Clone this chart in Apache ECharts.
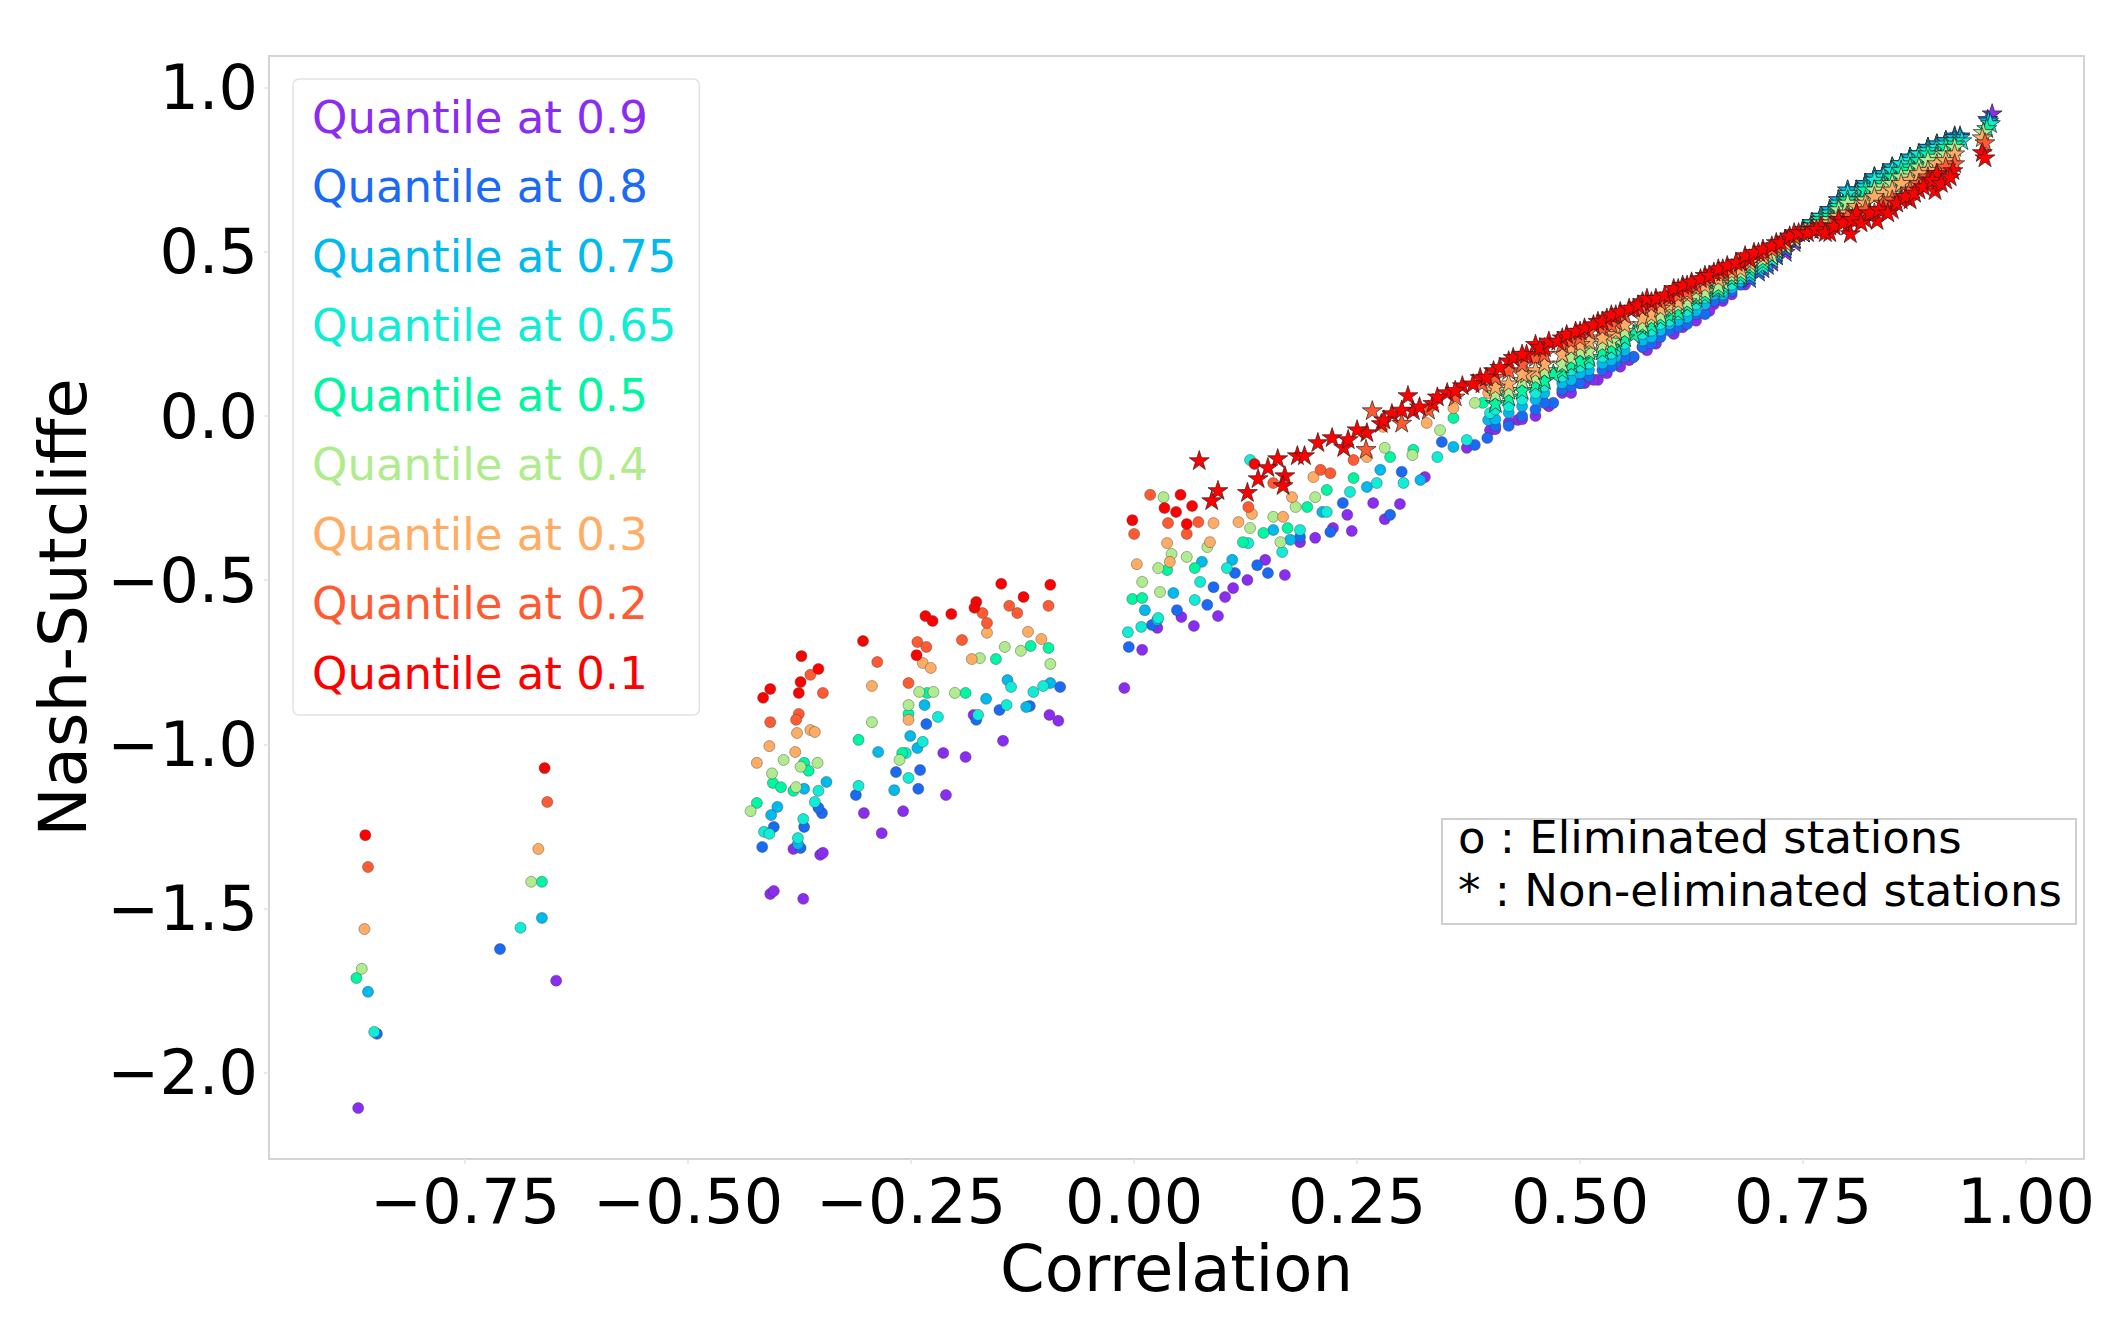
<!DOCTYPE html>
<html>
<head>
<meta charset="utf-8">
<script src="https://cdn.jsdelivr.net/npm/echarts@6/dist/echarts.min.js"></script>
<style>
html,body{margin:0;padding:0;background:#fff;}
#chart{width:2127px;height:1318px;}
</style>
</head>
<body>
<div id="chart"></div>
<script>
// ---- data ----
const quantileNames = ['Quantile at 0.9','Quantile at 0.8','Quantile at 0.75','Quantile at 0.65','Quantile at 0.5','Quantile at 0.4','Quantile at 0.3','Quantile at 0.2','Quantile at 0.1'];
const quantileColors = ['#8a2cf2','#1b6af5','#00baee','#10ecd6','#00f7a2','#b0ec8e','#ffac64','#ff5a32','#ff0000'];
const xTicks = [-0.75,-0.5,-0.25,0,0.25,0.5,0.75,1.0];
const yTicks = [-2.0,-1.5,-1.0,-0.5,0.0,0.5,1.0];
const notes = ['o : Eliminated stations','* : Non-eliminated stations'];

// [correlation, Nash-Sutcliffe]
const q90Circles = [[-0.870,-2.107],[-0.648,-1.719],[-0.408,-1.455],[-0.404,-1.446],[-0.371,-1.470],[-0.382,-1.318],[-0.352,-1.336],[-0.349,-1.330],[-0.303,-1.209],[-0.283,-1.270],[-0.259,-1.203],[-0.214,-1.026],[-0.189,-1.038],[-0.211,-1.154],[-0.147,-0.989],[-0.180,-0.910],[-0.095,-0.910],[-0.085,-0.928],[-0.011,-0.828],[0.009,-0.712],[0.026,-0.645],[0.053,-0.612],[0.067,-0.639],[0.094,-0.609],[0.102,-0.551],[0.111,-0.524],[0.127,-0.499],[0.169,-0.484],[0.147,-0.438],[0.186,-0.384],[0.203,-0.371],[0.223,-0.341],[0.244,-0.350],[0.239,-0.301],[0.268,-0.265],[0.281,-0.314],[0.298,-0.268],[0.326,-0.186],[0.373,-0.097],[0.399,-0.043],[0.43,-0.012],[0.45,0.00],[0.48,0.07],[0.50,0.10],[0.53,0.13],[0.56,0.18],[0.59,0.25],[0.62,0.30],[0.65,0.34],[0.68,0.40],[0.694,0.435],[0.635,0.353],[0.52,0.11],[0.57,0.21],
  [0.405,-0.04],[0.42,-0.02],[0.435,-0.01],[0.465,0.03],[0.49,0.07],[0.505,0.10],[0.515,0.11],[0.545,0.15],[0.555,0.17],[0.575,0.20],[0.585,0.22],[0.605,0.25],[0.615,0.27],[0.63,0.29],[0.645,0.32],[0.66,0.35],[0.67,0.37],[0.685,0.40]];
const q90Stars = [[0.72,0.49],[0.75,0.57],[0.78,0.63],[0.81,0.69],[0.84,0.74],[0.87,0.79],[0.90,0.83],[0.92,0.85],[0.962,0.922],
  [0.705,0.45],[0.715,0.47],[0.73,0.50],[0.74,0.53],[0.76,0.59],[0.77,0.61],[0.79,0.66],[0.80,0.68],[0.82,0.71],[0.83,0.73],[0.85,0.76],[0.86,0.77],[0.88,0.80],[0.89,0.82],[0.91,0.84]];

const q80Circles = [[-0.849,-1.881],[-0.711,-1.623],[-0.417,-1.312],[-0.404,-1.251],[-0.370,-1.251],[-0.350,-1.209],[-0.354,-1.193],[-0.374,-1.315],[-0.312,-1.154],[-0.267,-1.084],[-0.240,-1.078],[-0.242,-1.135],[-0.233,-0.938],[-0.151,-0.895],[-0.177,-0.925],[-0.117,-0.883],[-0.083,-0.825],[-0.006,-0.703],[0.020,-0.636],[0.048,-0.591],[0.082,-0.575],[0.089,-0.521],[0.113,-0.478],[0.138,-0.454],[0.150,-0.478],[0.186,-0.368],[0.220,-0.353],[0.234,-0.265],[0.287,-0.301],[0.300,-0.170],[0.345,-0.079],[0.382,-0.088],[0.396,-0.067],[0.42,-0.03],[0.45,0.02],[0.48,0.08],[0.51,0.12],[0.54,0.16],[0.57,0.21],[0.60,0.26],[0.63,0.31],[0.66,0.36],[0.47,0.04],[0.56,0.18],
  [0.405,-0.03],[0.435,0.00],[0.46,0.04],[0.49,0.09],[0.50,0.10],[0.525,0.14],[0.535,0.15],[0.55,0.18],[0.58,0.22],[0.59,0.24],[0.61,0.27],[0.62,0.28],[0.64,0.31],[0.65,0.35],[0.67,0.38],[0.68,0.40]];
const q80Stars = [[0.69,0.42],[0.72,0.49],[0.75,0.57],[0.78,0.63],[0.81,0.69],[0.84,0.74],[0.87,0.79],[0.90,0.83],[0.926,0.855],[0.957,0.905],
  [0.70,0.44],[0.71,0.46],[0.73,0.51],[0.74,0.54],[0.76,0.59],[0.77,0.61],[0.79,0.66],[0.80,0.69],[0.82,0.71],[0.83,0.73],[0.85,0.76],[0.86,0.77],[0.88,0.80],[0.89,0.82],[0.91,0.84],[0.92,0.855]];

const q75Circles = [[-0.859,-1.753],[-0.664,-1.528],[-0.400,-1.190],[-0.407,-1.215],[-0.370,-1.135],[-0.345,-1.114],[-0.377,-1.303],[-0.287,-1.023],[-0.251,-0.974],[-0.235,-0.880],[-0.243,-1.011],[-0.269,-1.139],[-0.166,-0.861],[-0.142,-0.804],[-0.121,-0.886],[-0.094,-0.813],[0.012,-0.591],[0.026,-0.621],[0.044,-0.539],[0.076,-0.444],[0.110,-0.438],[0.156,-0.347],[0.175,-0.377],[0.211,-0.292],[0.261,-0.216],[0.276,-0.164],[0.321,-0.195],[0.358,-0.094],[0.397,-0.012],[0.42,0.01],[0.45,0.05],[0.48,0.10],[0.51,0.14],[0.54,0.18],[0.57,0.23],[0.60,0.28],[0.63,0.32],[0.66,0.37],
  [0.405,-0.01],[0.435,0.03],[0.46,0.07],[0.49,0.11],[0.50,0.13],[0.525,0.16],[0.535,0.17],[0.55,0.20],[0.58,0.24],[0.59,0.26],[0.61,0.29],[0.62,0.30],[0.64,0.34],[0.65,0.37],[0.67,0.39],[0.68,0.41]];
const q75Stars = [[0.69,0.43],[0.72,0.50],[0.75,0.57],[0.78,0.63],[0.81,0.68],[0.84,0.74],[0.87,0.79],[0.90,0.83],[0.926,0.85],[0.958,0.90],
  [0.70,0.45],[0.71,0.47],[0.73,0.52],[0.74,0.54],[0.76,0.59],[0.77,0.61],[0.79,0.66],[0.80,0.69],[0.82,0.71],[0.83,0.73],[0.85,0.76],[0.86,0.77],[0.88,0.80],[0.89,0.82],[0.91,0.84],[0.92,0.85]];

const q65Circles = [[-0.852,-1.875],[-0.688,-1.558],[-0.415,-1.266],[-0.409,-1.272],[-0.371,-1.227],[-0.358,-1.175],[-0.354,-1.141],[-0.377,-1.285],[-0.309,-1.126],[-0.253,-1.102],[-0.237,-0.992],[-0.256,-1.026],[-0.220,-0.916],[-0.138,-0.825],[-0.113,-0.840],[-0.102,-0.822],[-0.175,-0.910],[-0.143,-0.880],[-0.007,-0.658],[0.008,-0.642],[0.027,-0.615],[0.068,-0.560],[0.074,-0.505],[0.104,-0.463],[0.130,-0.134],[0.128,-0.387],[0.166,-0.414],[0.186,-0.347],[0.216,-0.292],[0.242,-0.231],[0.272,-0.204],[0.302,-0.204],[0.340,-0.125],[0.373,-0.073],[0.399,0.009],[0.42,0.03],[0.45,0.07],[0.48,0.12],[0.51,0.16],[0.54,0.20],[0.57,0.25],[0.60,0.29],[0.63,0.34],[0.66,0.38],
  [0.405,0.02],[0.435,0.05],[0.46,0.09],[0.49,0.14],[0.50,0.15],[0.525,0.18],[0.535,0.19],[0.55,0.22],[0.58,0.26],[0.59,0.28],[0.61,0.31],[0.62,0.32],[0.64,0.36],[0.65,0.38],[0.67,0.40],[0.68,0.42]];
const q65Stars = [[0.69,0.44],[0.72,0.50],[0.75,0.56],[0.78,0.62],[0.81,0.68],[0.84,0.73],[0.87,0.78],[0.90,0.82],[0.928,0.840],[0.960,0.892],[0.70,0.46],[0.76,0.59],[0.82,0.70],[0.88,0.80],
  [0.705,0.46],[0.715,0.48],[0.73,0.52],[0.74,0.54],[0.77,0.61],[0.79,0.65],[0.80,0.68],[0.83,0.72],[0.85,0.75],[0.86,0.77],[0.89,0.81],[0.91,0.83],[0.92,0.84]];

const q50Circles = [[-0.872,-1.711],[-0.664,-1.418],[-0.405,-1.117],[-0.396,-1.130],[-0.423,-1.178],[-0.370,-1.056],[-0.365,-1.080],[-0.382,-1.141],[-0.309,-0.986],[-0.253,-0.907],[-0.232,-0.843],[-0.189,-0.843],[-0.260,-1.026],[-0.155,-0.740],[-0.116,-0.700],[-0.096,-0.706],[-0.002,-0.557],[0.009,-0.554],[0.037,-0.469],[0.068,-0.463],[0.122,-0.384],[0.145,-0.356],[0.172,-0.341],[0.194,-0.277],[0.216,-0.225],[0.246,-0.189],[0.287,-0.125],[0.313,-0.103],[0.358,-0.006],[0.391,0.040]];
const q50Stars = [[0.42,0.06],[0.45,0.10],[0.48,0.14],[0.51,0.18],[0.54,0.22],[0.57,0.27],[0.60,0.31],[0.63,0.36],[0.66,0.40],[0.69,0.45],[0.72,0.51],[0.75,0.56],[0.78,0.61],[0.81,0.66],[0.84,0.71],[0.87,0.76],[0.90,0.80],[0.92,0.83],[0.956,0.877],[0.47,0.13],[0.56,0.25],[0.65,0.39],[0.74,0.54],[0.83,0.69],
  [0.405,0.04],[0.435,0.08],[0.46,0.11],[0.49,0.16],[0.50,0.17],[0.525,0.20],[0.535,0.21],[0.55,0.24],[0.58,0.28],[0.59,0.30],[0.61,0.32],[0.62,0.34],[0.64,0.37],[0.655,0.39],[0.67,0.42],[0.68,0.43],[0.705,0.47],[0.715,0.49],[0.73,0.52],[0.76,0.58],[0.77,0.60],[0.79,0.64],[0.80,0.66],[0.82,0.69],[0.85,0.73],[0.86,0.75],[0.88,0.78],[0.89,0.80],[0.91,0.82]];

const q40Circles = [[-0.866,-1.683],[-0.676,-1.418],[-0.393,-1.047],[-0.374,-1.068],[-0.355,-1.056],[-0.406,-1.088],[-0.379,-1.130],[-0.430,-1.203],[-0.294,-0.932],[-0.253,-0.880],[-0.241,-0.840],[-0.225,-0.840],[-0.201,-0.843],[-0.263,-1.047],[-0.173,-0.737],[-0.145,-0.703],[-0.127,-0.715],[-0.094,-0.755],[0.009,-0.505],[0.027,-0.463],[0.029,-0.536],[0.042,-0.420],[0.059,-0.429],[0.082,-0.399],[0.033,-0.247],[0.130,-0.341],[0.164,-0.384],[0.156,-0.307],[0.181,-0.277],[0.203,-0.247],[0.257,-0.049],[0.281,-0.097],[0.312,-0.119],[0.343,-0.043],[0.382,0.040]];
const q40Stars = [[0.42,0.08],[0.45,0.12],[0.48,0.16],[0.51,0.20],[0.54,0.24],[0.57,0.28],[0.60,0.33],[0.63,0.37],[0.66,0.41],[0.69,0.46],[0.72,0.51],[0.75,0.56],[0.78,0.60],[0.81,0.65],[0.84,0.70],[0.87,0.74],[0.90,0.79],[0.92,0.82],[0.952,0.865],[0.46,0.14],[0.55,0.26],[0.64,0.38],[0.73,0.52],[0.82,0.66],
  [0.405,0.07],[0.435,0.11],[0.49,0.18],[0.50,0.20],[0.525,0.22],[0.535,0.23],[0.58,0.30],[0.59,0.31],[0.61,0.34],[0.62,0.35],[0.655,0.40],[0.67,0.43],[0.68,0.44],[0.705,0.48],[0.715,0.49],[0.74,0.54],[0.76,0.58],[0.77,0.59],[0.79,0.63],[0.80,0.65],[0.83,0.69],[0.85,0.71],[0.86,0.73],[0.88,0.76],[0.89,0.78],[0.91,0.80]];

const q30Circles = [[-0.863,-1.562],[-0.668,-1.318],[-0.378,-0.965],[-0.363,-0.956],[-0.358,-0.962],[-0.409,-1.005],[-0.380,-1.023],[-0.423,-1.056],[-0.294,-0.822],[-0.237,-0.752],[-0.228,-0.767],[-0.253,-0.925],[-0.182,-0.740],[-0.165,-0.660],[-0.119,-0.657],[-0.104,-0.679],[0.003,-0.451],[0.037,-0.387],[0.040,-0.444],[0.085,-0.384],[0.089,-0.326],[0.117,-0.323],[0.132,-0.298],[0.167,-0.307],[0.177,-0.247],[0.201,-0.186],[0.261,-0.125],[0.279,-0.033],[0.328,-0.021],[0.358,0.024],[0.397,0.070]];
const q30Stars = [[0.42,0.10],[0.45,0.14],[0.48,0.19],[0.51,0.23],[0.54,0.26],[0.57,0.30],[0.60,0.34],[0.63,0.39],[0.66,0.43],[0.69,0.47],[0.72,0.52],[0.75,0.56],[0.78,0.59],[0.81,0.64],[0.84,0.68],[0.87,0.72],[0.90,0.77],[0.92,0.80],[0.951,0.849],[0.44,0.13],[0.53,0.25],[0.62,0.37],[0.71,0.50],[0.80,0.62],[0.89,0.75],
  [0.405,0.09],[0.435,0.13],[0.46,0.16],[0.49,0.21],[0.50,0.22],[0.525,0.24],[0.55,0.28],[0.58,0.31],[0.59,0.33],[0.61,0.35],[0.64,0.40],[0.655,0.42],[0.67,0.44],[0.68,0.45],[0.705,0.49],[0.73,0.53],[0.74,0.55],[0.76,0.57],[0.77,0.58],[0.79,0.61],[0.82,0.65],[0.83,0.67],[0.85,0.69],[0.86,0.71],[0.88,0.74],[0.91,0.78]];

const q20Circles = [[-0.859,-1.373],[-0.658,-1.175],[-0.363,-0.788],[-0.349,-0.843],[-0.408,-0.932],[-0.376,-0.907],[-0.379,-0.925],[-0.288,-0.749],[-0.243,-0.688],[-0.233,-0.703],[-0.253,-0.813],[-0.170,-0.600],[-0.165,-0.630],[-0.140,-0.578],[-0.131,-0.600],[-0.096,-0.578],[-0.193,-0.682],[0.018,-0.240],[0.000,-0.359],[0.038,-0.326],[0.072,-0.323],[0.059,-0.359],[0.128,-0.277],[0.156,-0.204],[0.209,-0.164],[0.220,-0.174],[0.246,-0.134]];
const q20Stars = [[0.267,0.018],[0.26,-0.10],[0.30,-0.02],[0.33,0.02],[0.36,0.06],[0.39,0.10],[0.42,0.14],[0.45,0.18],[0.48,0.22],[0.51,0.26],[0.54,0.29],[0.57,0.33],[0.60,0.36],[0.63,0.40],[0.66,0.44],[0.69,0.48],[0.72,0.52],[0.75,0.56],[0.78,0.58],[0.81,0.62],[0.84,0.65],[0.87,0.69],[0.90,0.74],[0.92,0.77],[0.954,0.834],[0.83,0.62],[0.86,0.67],[0.77,0.57],
  [0.405,0.12],[0.435,0.16],[0.46,0.19],[0.49,0.23],[0.50,0.24],[0.525,0.27],[0.535,0.28],[0.55,0.31],[0.58,0.34],[0.59,0.35],[0.61,0.37],[0.62,0.38],[0.64,0.42],[0.655,0.44],[0.67,0.45],[0.68,0.47],[0.705,0.50],[0.715,0.51],[0.73,0.54],[0.74,0.55],[0.76,0.57],[0.79,0.60],[0.80,0.61],[0.82,0.63],[0.85,0.66],[0.88,0.71],[0.89,0.73],[0.91,0.76]];

const q10Circles = [[-0.862,-1.276],[-0.661,-1.072],[-0.373,-0.731],[-0.408,-0.831],[-0.416,-0.858],[-0.374,-0.810],[-0.376,-0.843],[-0.354,-0.770],[-0.304,-0.685],[-0.234,-0.609],[-0.226,-0.624],[-0.205,-0.603],[-0.177,-0.566],[-0.179,-0.584],[-0.149,-0.511],[-0.094,-0.514],[-0.124,-0.551],[-0.244,-0.728],[-0.002,-0.317],[0.052,-0.240],[0.034,-0.280],[0.065,-0.274],[0.059,-0.329],[0.135,-0.146],[0.047,-0.292]];
const q10Stars = [[0.073,-0.134],[0.094,-0.225],[0.087,-0.256],[0.127,-0.231],[0.139,-0.189],[0.161,-0.128],[0.150,-0.155],[0.169,-0.180],[0.183,-0.119],[0.191,-0.119],[0.206,-0.079],[0.222,-0.064],[0.235,-0.094],[0.261,-0.049],[0.277,-0.021],[0.289,0.009],[0.307,0.064],[0.313,0.018],[0.335,0.040],[0.351,0.073],[0.368,0.094],[0.388,0.119],[0.403,0.140],[0.167,-0.210],[0.42,0.17],[0.44,0.19],[0.46,0.21],[0.48,0.24],[0.50,0.26],[0.52,0.29],[0.54,0.31],[0.56,0.33],[0.58,0.35],[0.60,0.37],[0.62,0.40],[0.64,0.43],[0.66,0.45],[0.68,0.47],[0.70,0.50],[0.72,0.53],[0.74,0.56],[0.76,0.57],[0.78,0.56],[0.80,0.58],[0.803,0.557],[0.82,0.60],[0.833,0.597],[0.85,0.63],[0.87,0.66],[0.88,0.69],[0.898,0.688],[0.91,0.72],[0.918,0.749],[0.951,0.804],[0.954,0.788],[0.45,0.22],[0.53,0.30],[0.57,0.35],[0.61,0.39],[0.65,0.44],[0.69,0.48],[0.73,0.54],[0.77,0.58],[0.79,0.60],[0.81,0.62],[0.84,0.63],[0.86,0.66],[0.89,0.72],[0.90,0.74],
  [0.425,0.18],[0.435,0.19],[0.455,0.21],[0.465,0.23],[0.475,0.23],[0.485,0.25],[0.495,0.26],[0.505,0.27],[0.515,0.28],[0.525,0.29],[0.535,0.31],[0.545,0.32],[0.555,0.33],[0.565,0.34],[0.575,0.36],[0.585,0.36],[0.595,0.37],[0.605,0.39],[0.615,0.40],[0.625,0.41],[0.635,0.42],[0.645,0.43],[0.655,0.45],[0.665,0.46],[0.675,0.47],[0.685,0.49],[0.695,0.50],[0.705,0.51],[0.715,0.52],[0.725,0.53],[0.735,0.55],[0.745,0.56],[0.755,0.56],[0.765,0.57],[0.775,0.56],[0.785,0.58],[0.795,0.59],[0.805,0.60],[0.815,0.59],[0.825,0.62],[0.835,0.63],[0.845,0.62],[0.855,0.65],[0.865,0.67],[0.875,0.68],[0.885,0.70],[0.895,0.72],[0.905,0.71],[0.915,0.73],
  [0.32,0.03],[0.34,0.06],[0.36,0.08],[0.38,0.10],[0.395,0.12],[0.41,0.15],[0.30,0.02],[0.28,-0.01],[0.25,-0.04],[0.24,-0.07]];

const circleSets = [q90Circles,q80Circles,q75Circles,q65Circles,q50Circles,q40Circles,q30Circles,q20Circles,q10Circles];
const starSets = [q90Stars,q80Stars,q75Stars,q65Stars,q50Stars,q40Stars,q30Stars,q20Stars,q10Stars];

// ---- chart ----
const STAR = 'path://M50,0 L61.2,34.5 L97.6,34.5 L68.2,55.9 L79.4,90.5 L50,69.1 L20.6,90.5 L31.8,55.9 L2.4,34.5 L38.8,34.5 Z';
const FONT = 'DejaVu Sans';
const fmt = (v, d) => v.toFixed(d).replace('-', '\u2212');

const series = [];
quantileNames.forEach((name, i) => {
  series.push({
    name: name, type: 'scatter', data: circleSets[i], symbol: 'circle', symbolSize: 11,
    itemStyle: { color: quantileColors[i], borderColor: 'rgba(60,60,60,0.7)', borderWidth: 0.6, opacity: 1 },
    z: 2 + i
  });
});
quantileNames.forEach((name, i) => {
  series.push({
    name: name, type: 'scatter', data: starSets[i], symbol: STAR, symbolSize: 20, symbolKeepAspect: true,
    itemStyle: { color: quantileColors[i], borderColor: 'rgba(30,30,30,0.85)', borderWidth: 0.8, opacity: 1 },
    z: 12 + i
  });
});

const chart = echarts.init(document.getElementById('chart'), null, { renderer: 'svg' });
chart.setOption({
  animation: false,
  backgroundColor: '#ffffff',
  textStyle: { fontFamily: FONT },
  grid: { left: 269, right: 43, top: 56, bottom: 159, show: true, borderColor: '#d4d4d4', borderWidth: 2, backgroundColor: 'transparent' },
  legend: {
    orient: 'vertical', left: 293, top: 79,
    padding: [13, 23, 17, 14],
    backgroundColor: '#ffffff', borderColor: '#e2e2e2', borderWidth: 1.5, borderRadius: 6,
    icon: 'none', itemWidth: 0, itemHeight: 50, itemGap: 19.5,
    selectedMode: false,
    textStyle: { fontSize: 45, fontFamily: FONT, lineHeight: 50 },
    data: quantileNames.map((n, i) => ({ name: n, textStyle: { color: quantileColors[i] } }))
  },
  xAxis: {
    type: 'value', min: -0.97, max: 1.065,
    name: 'Correlation', nameLocation: 'middle', nameGap: 72,
    nameTextStyle: { fontSize: 64, color: '#000', fontFamily: FONT },
    axisLine: { show: false, onZero: false },
    splitLine: { show: false },
    axisTick: { show: true, customValues: xTicks, length: 5, lineStyle: { color: '#e4e4e4', width: 1.5 } },
    axisLabel: { customValues: xTicks, fontSize: 62, color: '#000', fontFamily: FONT, margin: 11, formatter: v => fmt(v, 2) }
  },
  yAxis: {
    type: 'value', min: -2.262, max: 1.096,
    name: 'Nash-Sutcliffe', nameLocation: 'middle', nameGap: 155, nameRotate: 90,
    nameTextStyle: { fontSize: 66, color: '#000', fontFamily: FONT },
    axisLine: { show: false, onZero: false },
    splitLine: { show: false },
    axisTick: { show: true, customValues: yTicks, length: 5, lineStyle: { color: '#e4e4e4', width: 1.5 } },
    axisLabel: { customValues: yTicks, fontSize: 62, color: '#000', fontFamily: FONT, margin: 11, formatter: v => fmt(v, 1) }
  },
  graphic: [
    { type: 'rect', left: 1441, top: 818, shape: { width: 634, height: 105 }, style: { fill: '#ffffff', stroke: '#cfcfcf', lineWidth: 2 }, z: 50 },
    { type: 'text', left: 1458, top: 815, style: { text: notes[0], fontSize: 45, fontFamily: FONT, fill: '#000' }, z: 51 },
    { type: 'text', left: 1458, top: 868, style: { text: notes[1], fontSize: 45, fontFamily: FONT, fill: '#000' }, z: 51 }
  ],
  series: series
});
</script>
</body>
</html>
